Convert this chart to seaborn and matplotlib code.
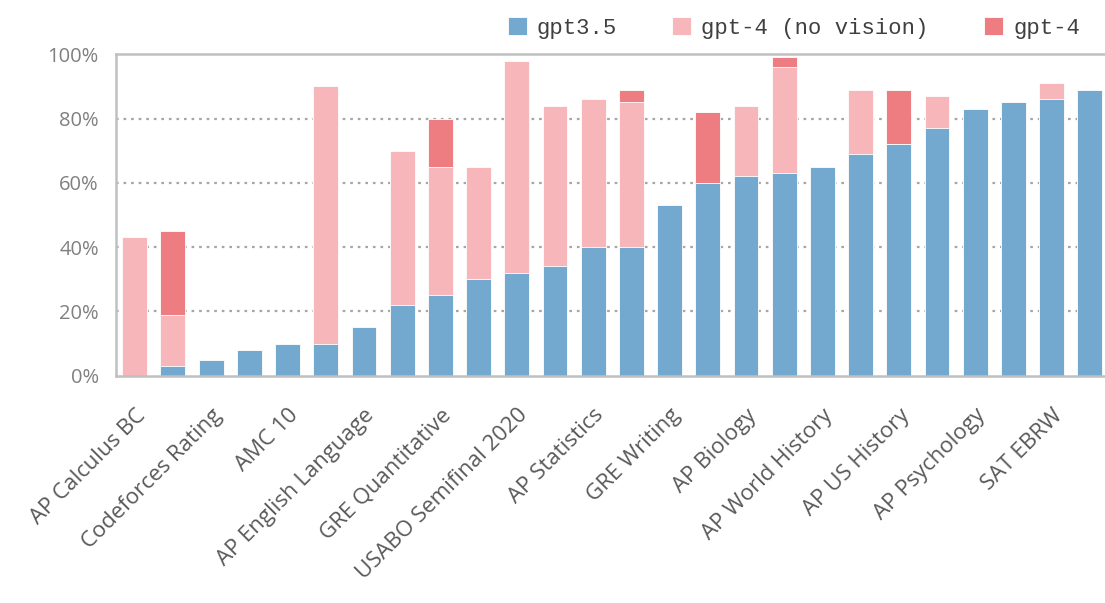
import matplotlib
matplotlib.use("Agg")
import matplotlib.pyplot as plt
import seaborn as sns
import pandas as pd
from matplotlib.ticker import FuncFormatter
from matplotlib.patches import Patch

exams = ["AP Calculus BC", "AMC 12", "Codeforces Rating", "AP English Literature",
         "AMC 10", "Uniform Bar Exam", "AP English Language", "AP Chemistry",
         "GRE Quantitative", "AP Physics 2", "USABO Semifinal 2020", "AP Macroeconomics",
         "AP Statistics", "LSAT", "GRE Writing", "AP Microeconomics", "AP Biology",
         "GRE Verbal", "AP World History", "SAT Math", "AP US History",
         "AP US Government", "AP Psychology", "AP Art History", "SAT EBRW",
         "AP Environmental Science"]
gpt35 = [0, 3, 5, 8, 10, 10, 15, 22, 25, 30, 32, 34, 40, 40, 53, 60, 62, 63, 65, 69,
         72, 77, 83, 85, 86, 89]
gpt4_novision = [43, 19, 5, 8, 10, 90, 15, 70, 65, 65, 98, 84, 86, 85, 53, 60, 84, 96,
                 65, 89, 72, 87, 83, 85, 91, 89]
gpt4 = [43, 45, 5, 8, 10, 90, 15, 70, 80, 65, 98, 84, 86, 89, 53, 82, 84, 99, 65, 89,
        89, 87, 83, 85, 91, 89]
series_names = ["gpt3.5", "gpt-4 (no vision)", "gpt-4"]
yticks = [0, 20, 40, 60, 80, 100]

BLUE = "#74a9cf"
PINK = "#f7b6ba"
RED = "#ee7d81"

sns.set_style("white")
plt.rcParams["font.family"] = ["Open Sans", "DejaVu Sans"]

fig = plt.figure(figsize=(11.05, 6.03), dpi=100)
ax = fig.add_axes([0.1046, 0.377, 0.8990, 0.533])

df = pd.DataFrame({"exam": exams, "gpt35": gpt35, "nv": gpt4_novision, "g4": gpt4})
for col, color in [("g4", RED), ("nv", PINK), ("gpt35", BLUE)]:
    sns.barplot(data=df, x="exam", y=col, order=exams, color=color, width=0.65,
                saturation=1, edgecolor="white", linewidth=0.6, ax=ax, zorder=3)

ax.set_ylim(0, 100)
ax.set_xlim(-0.5, len(exams) - 0.5)
ax.set_yticks(yticks)
ax.yaxis.set_major_formatter(FuncFormatter(lambda v, p: f"{int(v)}%"))
ax.set_xlabel("")
ax.set_ylabel("")
ax.set_xticks(range(0, len(exams), 2))
ax.set_xticklabels(exams[::2], rotation=45, ha="right", va="top",
                   rotation_mode="anchor", color="#595959", fontsize=16)
ax.tick_params(axis="x", length=0, pad=21)
ax.tick_params(axis="y", length=0, pad=12, labelsize=14.5, labelcolor="#808080")

for v in yticks[1:-1]:
    ax.axhline(v, color="#a6a6a6", linestyle=(0, (1.2, 2.2)), linewidth=1.6, zorder=1)

for side in ["left", "bottom", "top"]:
    ax.spines[side].set_visible(True)
    ax.spines[side].set_color("#c0c0c0")
    ax.spines[side].set_linewidth(1.8)
    ax.spines[side].set_zorder(4)
ax.spines["right"].set_visible(False)

handles = [Patch(facecolor=c, edgecolor="white", linewidth=0.6) for c in (BLUE, PINK, RED)]
fig.legend(handles, series_names, loc="center right",
           bbox_to_anchor=(1080 / 1105, 1 - 28 / 603), ncol=3, frameon=False,
           prop={"family": ["Liberation Mono", "DejaVu Sans Mono"], "size": 16},
           labelcolor="#404040", handlelength=0.85, handleheight=0.85,
           handletextpad=0.45, columnspacing=2.5, borderpad=0, borderaxespad=0)

fig.savefig("out.png", dpi=100, facecolor="white")
